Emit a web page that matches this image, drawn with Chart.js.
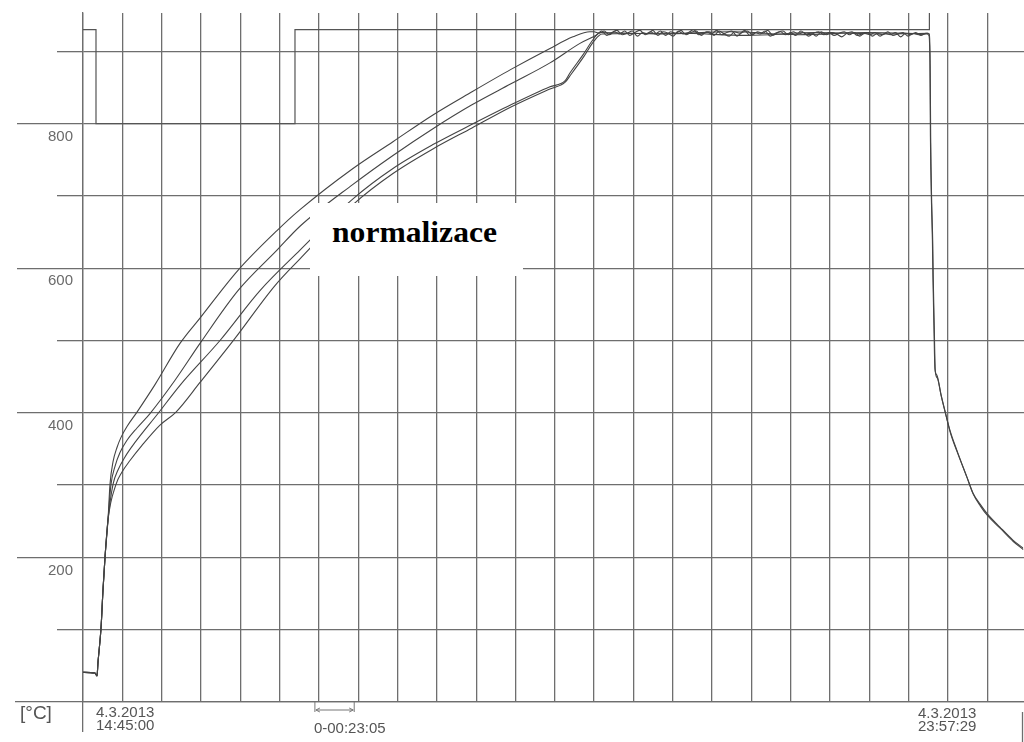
<!DOCTYPE html>
<html><head><meta charset="utf-8">
<script src="https://cdn.jsdelivr.net/npm/chart.js@4.4.1/dist/chart.umd.min.js"></script>
<style>
html,body{margin:0;padding:0;background:#fff;}
#wrap{position:relative;width:1024px;height:742px;overflow:hidden;background:#fff;}
canvas{position:absolute;left:0;top:0;}
.lbl{position:absolute;font-family:'Liberation Sans',Arial,sans-serif;color:#555;font-size:15px;line-height:13px;white-space:nowrap;}
#unit{font-size:19px;line-height:20px;}
#note{position:absolute;left:310px;top:203px;width:213px;height:73px;background:#fff;}
#note span{position:absolute;left:22px;top:15px;font-family:'Liberation Serif','Times New Roman',serif;font-weight:bold;font-size:29px;line-height:29px;color:#000;transform:scaleX(1.09);transform-origin:left top;white-space:nowrap;}
</style></head><body>
<div id="wrap">
<canvas id="c" width="1024" height="742"></canvas>
<div class="lbl" id="unit"></div>
<div class="lbl" id="startLbl"></div>
<div class="lbl" id="endLbl"></div>
<div class="lbl" id="stepLbl"></div>
<div id="note"><span id="noteTxt"></span></div>
</div>
<script>
// ---- data (time in minutes from 4.3.2013 14:45:00, temperature in °C) ----
const STEP_MIN = 23 + 5/60;           // grid step 0-00:23:05
const END_MIN = 552 + 29/60;          // 23:57:29
const yLabels = [200, 400, 600, 800];
const unitText = '[°C]';
const startText = ['4.3.2013', '14:45:00'];
const endText = ['4.3.2013', '23:57:29'];
const stepText = '0-00:23:05';
const noteText = 'normalizace';

// program / set-point channel
const tStep = [0, 7.63, 7.63, 124.46, 124.46, 496.94, 496.94];
const vStep = [930, 930, 800, 800, 930, 930, 1000];

// shared start of all thermocouples
const tCommon = [0, 7.04, 8.22, 8.81, 10.57, 11.74, 12.92, 14.68];
const vCommon = [41, 40, 36, 55, 102, 155, 200, 252];

// curve A (fastest)
const tA = [15.85, 17.61, 19.96, 22.31, 25.83, 31.70, 42.27, 56.94, 68.69, 90.99, 113.89, 127.39, 158.51, 181.99, 205.47, 228.37, 251.26, 274.16, 287.66, 297.64];
const vA = [301, 332, 352, 366, 381, 401, 439, 496, 531, 597, 652, 681, 738, 775, 812, 844, 875, 904, 920, 927];

// soak (noisy hold) of curve A
const tSoak = [300,303,306,309,312,315,318,321,324,327,330,333,336,339,342,345,348,351,354,357,360,363,366,369,372,375,378,381,384,387,390,393,396,399,402,405,408,411,414,417,420,423,426,429,432,435,438,441,444,447,450,453,456,459,462,465,468,471,474,477,480,483,486,489,492,495];
const vSoak = [927,925,928,923,927,924,928,922,926,929,923,927,924,928,922,927,925,929,923,926,928,922,927,924,929,923,926,928,921,926,928,923,927,925,929,922,926,928,923,927,924,926,921,925,927,923,926,922,925,927,923,926,921,925,923,926,921,925,923,926,920,925,923,926,922,925];

// cooling of curve A
const tCool = [496.65, 497.24, 497.53, 498.12, 498.71, 499.00, 499.59, 500.18, 501.35, 503.70, 506.05, 508.98, 513.09, 518.96, 522.49, 526.60, 530.71, 538.33, 545.97, 551.84];
const vCool = [922, 887, 783, 694, 638, 590, 521, 461, 452, 426, 403, 376, 348, 311, 289, 274, 261, 242, 224, 213];

// curve B
const tB = [16.44, 18.79, 21.72, 25.83, 31.70, 39.33, 54.01, 68.69, 90.99, 113.89, 127.39, 158.51, 181.99, 205.47, 228.37, 251.26, 274.16, 291.77, 301.75];
const vB = [301, 326, 345, 362, 379, 399, 445, 496, 569, 625, 658, 716, 756, 793, 826, 855, 884, 911, 923];
const tSoakB = [304.5,307.5,310.5,313.5,316.5,319.5,322.5,325.5,328.5,331.5,334.5,337.5,340.5,343.5,346.5,349.5,352.5,355.5,358.5,361.5,364.5,367.5,370.5,373.5,376.5,379.5,382.5,385.5,388.5,391.5,394.5,397.5,400.5,403.5,406.5,409.5,412.5,415.5,418.5,421.5,424.5,427.5,430.5,433.5,436.5,439.5,442.5,445.5,448.5,451.5,454.5,457.5,460.5,463.5,466.5,469.5,472.5,475.5,478.5,481.5,484.5,487.5,490.5,493.5];
const vSoakB = [928,922,926,929,923,925,928,921,926,924,929,922,927,925,921,928,924,926,930,923,925,927,922,928,924,921,927,925,929,922,926,924,928,921,925,927,923,926,922,928,924,925,921,927,923,926,924,920,925,927,922,924,926,921,925,923,927,922,924,926,921,925,923,924];
const tCoolB = [496.9, 497.4, 497.7, 498.3, 498.9, 499.2, 499.8, 500.4, 501.6, 504.0, 506.3, 509.3, 513.4, 519.3, 522.8, 526.9, 531.0, 538.6, 546.2, 552.0];
const vCoolB = [924, 880, 780, 690, 636, 586, 518, 458, 448, 422, 400, 372, 345, 309, 287, 271, 258, 240, 222, 211];

// curve C
const tC = [17.61, 20.55, 24.66, 30.53, 44.03, 56.94, 80.43, 103.91, 127.39, 158.51, 181.99, 205.47, 228.37, 251.26, 274.16, 282.96, 285.90, 293.53, 299.40, 303.51, 340, 380, 420, 460, 496.07];
const vC = [301, 321, 339, 359, 399, 438, 500, 569, 625, 696, 738, 771, 799, 826, 851, 859, 870, 895, 916, 926, 924, 927, 923, 926, 924];

// curve D (slowest)
const tD = [19.37, 22.90, 27.59, 34.64, 45.20, 54.60, 68.69, 89.23, 112.72, 127.39, 158.51, 181.99, 205.47, 228.37, 251.26, 274.16, 282.96, 286.49, 294.12, 299.99, 304.69, 350, 390, 430, 470, 496.07];
const vD = [301, 318, 334, 355, 383, 401, 442, 503, 576, 613, 688, 731, 765, 794, 823, 848, 857, 868, 893, 914, 924, 925, 922, 926, 924, 925];

// ---- build ----
const zip = (t, v) => t.map((x, i) => ({x, y: v[i]}));
const GRID = '#6e6e6e';
const LINE = '#444';

document.getElementById('unit').textContent = unitText;
document.getElementById('startLbl').innerHTML = startText.join('<br>');
document.getElementById('endLbl').innerHTML = endText.join('<br>');
document.getElementById('stepLbl').textContent = stepText;
document.getElementById('noteTxt').textContent = noteText;

const lineDs = (data, color, w, smooth) => ({data, borderColor: color, borderWidth: w, pointRadius: 0,
  tension: smooth ? 0.4 : 0, cubicInterpolationMode: smooth ? 'monotone' : 'default', fill: false});

const extras = {
  id: 'extras',
  afterDraw(chart) {
    const {ctx, chartArea: ca, scales: {x, y}} = chart;
    ctx.save();
    ctx.strokeStyle = GRID;
    ctx.lineWidth = 1.3;
    // horizontal grid extensions into the label area
    y.ticks.forEach(t => {
      if (t.value % 100 !== 0) return;
      const py = Math.round(y.getPixelForValue(t.value) - 0.65) + 0.65;
      const x0 = t.value === 0 ? 15 : (t.value % 200 === 0 ? 17 : 57);
      ctx.beginPath(); ctx.moveTo(x0, py); ctx.lineTo(ca.left, py); ctx.stroke();
    });
    // start / end marks below the time axis
    const px0 = Math.round(x.getPixelForValue(0) - 0.65) + 0.65;
    ctx.beginPath(); ctx.moveTo(px0, ca.bottom); ctx.lineTo(px0, ca.bottom + 30); ctx.stroke();
    const pxE = ca.right - 1.5;
    ctx.beginPath(); ctx.moveTo(pxE, ca.bottom + 10); ctx.lineTo(pxE, chart.height); ctx.stroke();
    // interval marker with double arrow
    const a = x.getPixelForValue(6 * STEP_MIN) - 4, b = x.getPixelForValue(7 * STEP_MIN) - 4;
    const ay = ca.bottom + 8;
    ctx.lineWidth = 1;
    ctx.strokeStyle = '#777';
    ctx.beginPath();
    ctx.moveTo(a, ca.bottom); ctx.lineTo(a, ca.bottom + 10);
    ctx.moveTo(b, ca.bottom); ctx.lineTo(b, ca.bottom + 10);
    ctx.moveTo(a + 1, ay); ctx.lineTo(b - 1, ay);
    ctx.moveTo(a + 5, ay - 2); ctx.lineTo(a + 1, ay); ctx.lineTo(a + 5, ay + 2);
    ctx.moveTo(b - 5, ay - 2); ctx.lineTo(b - 1, ay); ctx.lineTo(b - 5, ay + 2);
    ctx.stroke();
    ctx.restore();
    // place the text labels relative to the scales
    const set = (id, l, t) => { const e = document.getElementById(id); e.style.left = l + 'px'; e.style.top = t + 'px'; };
    set('unit', 20, ca.bottom + 1);
    set('startLbl', x.getPixelForValue(0) + 13, ca.bottom + 3);
    set('endLbl', x.getPixelForValue(END_MIN) - 106, ca.bottom + 4);
    set('stepLbl', a - 1, ca.bottom + 19);
  }
};

new Chart(document.getElementById('c'), {
  type: 'line',
  data: {
    datasets: [
      lineDs(zip(tStep, vStep), '#555', 1.2, false),
      lineDs([...zip(tCommon, vCommon), ...zip(tD, vD)], LINE, 1.1, true),
      lineDs([...zip(tCommon, vCommon), ...zip(tC, vC)], LINE, 1.1, true),
      lineDs([...zip(tCommon, vCommon), ...zip(tB, vB), ...zip(tSoakB, vSoakB), {x: 496.07, y: 925}, ...zip(tCoolB, vCoolB)], LINE, 1.1, true),
      lineDs([...zip(tCommon, vCommon), ...zip(tA, vA), ...zip(tSoak, vSoak), ...zip(tCool, vCool)], LINE, 1.1, true)
    ]
  },
  options: {
    responsive: false,
    animation: false,
    devicePixelRatio: 1,
    layout: {padding: {top: 13, left: 0, right: 0, bottom: 0}},
    plugins: {legend: {display: false}, tooltip: {enabled: false}},
    scales: {
      x: {
        type: 'linear', min: 0, max: END_MIN,
        ticks: {display: false, stepSize: STEP_MIN, includeBounds: false},
        grid: {color: GRID, lineWidth: 1.3, drawTicks: false},
        border: {display: true, color: GRID, width: 1.3},
        afterFit(s) { s.height = 40; s.paddingLeft = 0; s.paddingRight = 0; }
      },
      y: {
        type: 'linear', min: 0, max: 953,
        ticks: {
          stepSize: 100, includeBounds: false, autoSkip: false,
          padding: 10, labelOffset: 13,
          color: '#6a6a6a',
          font: {family: "'Liberation Sans', Arial, sans-serif", size: 15},
          callback: v => yLabels.includes(v) ? String(v) : ''
        },
        grid: {color: c => (c.tick && c.tick.value % 100 === 0) ? GRID : 'rgba(0,0,0,0)', lineWidth: 1.3, drawTicks: false},
        border: {display: true, color: GRID, width: 1.3},
        afterFit(s) { s.width = 83; s.paddingTop = 0; s.paddingBottom = 0; }
      }
    }
  },
  plugins: [extras]
});
</script>
</body></html>
